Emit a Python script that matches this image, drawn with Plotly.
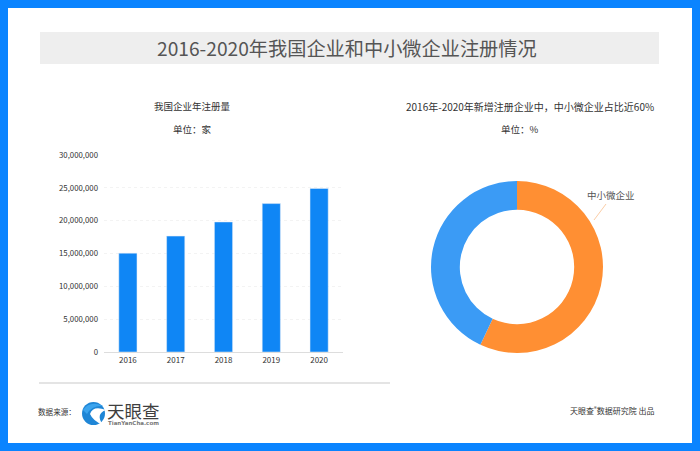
import plotly.graph_objects as go

W, H = 700, 451
FONT = "Noto Sans CJK SC"
BLUE = "#0a84ff"

# data
years = ["2016", "2017", "2018", "2019", "2020"]
registrations = [15050000, 17650000, 19800000, 22600000, 24900000]
y_ticks = [0, 5000000, 10000000, 15000000, 20000000, 25000000, 30000000]
y_tick_labels = ["0", "5,000,000", "10,000,000", "15,000,000", "20,000,000", "25,000,000", "30,000,000"]
share_labels = ["中小微企业", "其他企业"]
share_values = [57, 43]
share_colors = ["#ff8f33", "#3b9bf5"]


def px(x):
    return x / W


def py(y):
    return 1 - y / H


def rect(x0, y0, x1, y1, color):
    return dict(type="rect", xref="paper", yref="paper", x0=px(x0), x1=px(x1),
                y0=py(y1), y1=py(y0), fillcolor=color, line_width=0, layer="below")


def text(x, y, s, size=9.5, color="#333333", family=FONT):
    fig.add_annotation(x=px(x), y=py(y), xref="paper", yref="paper", text=s, showarrow=False,
                       xanchor="center", yanchor="middle", font=dict(family=family, size=size, color=color))


fig = go.Figure()

fig.add_trace(go.Bar(x=years, y=registrations, marker_color="#0f86f5", width=0.38,
                     hoverinfo="x+y", showlegend=False))

fig.add_trace(go.Pie(labels=share_labels, values=share_values, hole=0.665, sort=False,
                     direction="clockwise", rotation=0, textinfo="none",
                     marker=dict(colors=share_colors, line=dict(width=0)),
                     domain=dict(x=[px(431), px(603)], y=[py(353), py(181)]),
                     showlegend=False))

# frame, title band, rule
shapes = [
    rect(0, 0, W, 8, BLUE),
    rect(0, 443, W, H, BLUE),
    rect(0, 0, 8, H, BLUE),
    rect(692, 0, W, H, BLUE),
    rect(40, 32, 659, 64, "#eeeeee"),
    dict(type="line", xref="paper", yref="paper", x0=px(39), x1=px(390), y0=py(383), y1=py(383),
         line=dict(color="#c9c9c9", width=1)),
    # pie label leader
    dict(type="line", xref="paper", yref="paper", x0=px(606), x1=px(594), y0=py(204), y1=py(220),
         line=dict(color="#fbcda6", width=1)),
    # logo
    dict(type="circle", xref="paper", yref="paper", x0=px(82), x1=px(105), y0=py(425), y1=py(402),
         fillcolor="#1f86d6", line_width=0),
    dict(type="path", xref="paper", yref="paper", fillcolor="#3ba4ee", line_width=0,
         path=f"M {px(83)} {py(410)} Q {px(90)} {py(400)} {px(103)} {py(406)} "
              f"Q {px(92)} {py(405)} {px(87)} {py(414)} Z"),
    dict(type="path", xref="paper", yref="paper", fillcolor="white", line_width=0,
         path=f"M {px(106)} {py(410)} Q {px(93)} {py(405)} {px(90)} {py(414)} "
              f"Q {px(93)} {py(421)} {px(103)} {py(425)} Q {px(95)} {py(414)} {px(106)} {py(410)} Z"),
]
fig.update_layout(shapes=shapes)

text(346.5, 48, "2016-2020年我国企业和中小微企业注册情况", size=19.2, color="#555555")
text(193, 106, "我国企业年注册量", size=9.5)
text(193, 129, "单位：家", size=9.5)
text(529.5, 106, "2016年-2020年新增注册企业中，中小微企业占比近60%", size=10)
text(520, 129, "单位：%", size=9.5)
text(611, 195, "中小微企业", size=9.5, color="#555555")
text(56.5, 411, "数据来源：", size=7.6)
text(133.5, 410, "天眼查", size=17.5, color="#3f3f3f")
text(133.5, 423, "<b>TianYanCha.com</b>", size=5.5, color="#777777", family="DejaVu Sans")
text(612, 410, "天眼查<sup>®</sup>数据研究院 出品", size=8)

fig.update_xaxes(domain=[px(104), px(343)], type="category", showgrid=False, showline=True,
                 automargin=False, linecolor="#dddddd", linewidth=1, ticks="",
                 tickfont=dict(family=FONT, size=8, color="#333333"))
fig.update_yaxes(domain=[py(352), py(155)], range=[0, 30000000], tickmode="array", tickvals=y_ticks,
                 ticktext=y_tick_labels, showline=False, zeroline=False, ticks="", automargin=False,
                 gridcolor="#f3f3f3", griddash="dot", gridwidth=1, ticklabelstandoff=5,
                 tickfont=dict(family=FONT, size=7.8, color="#333333"))

fig.update_layout(width=W, height=H, margin=dict(l=0, r=0, t=0, b=0), paper_bgcolor="white",
                  plot_bgcolor="white", font=dict(family=FONT))

fig.write_html("out.html", config=dict(displayModeBar=False),
               post_script="document.body.style.margin='0';")
